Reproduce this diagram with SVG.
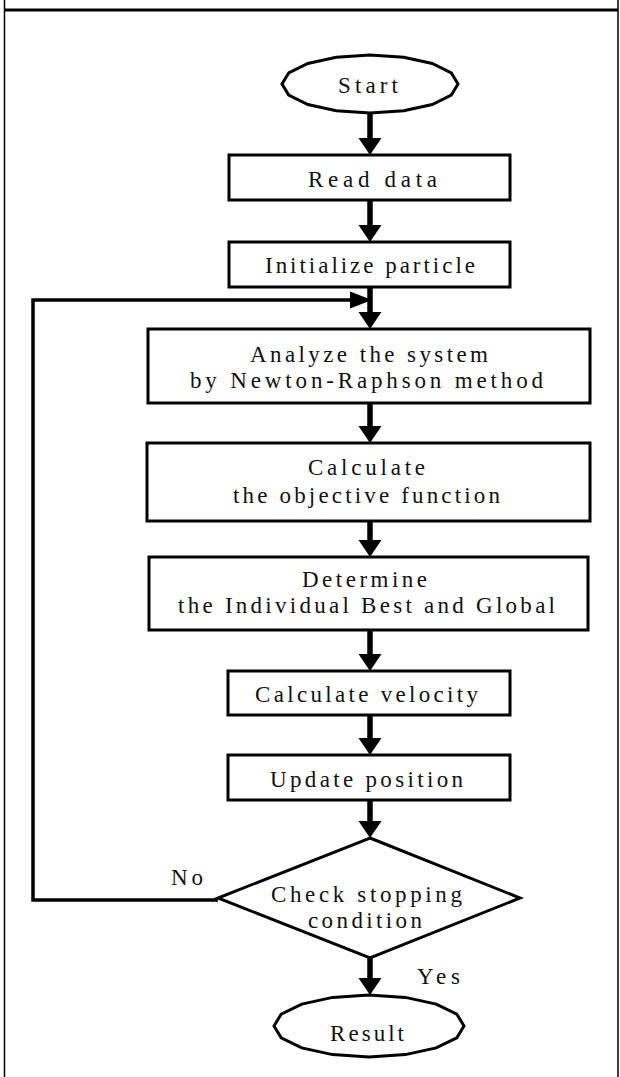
<svg xmlns="http://www.w3.org/2000/svg" width="620" height="1077" viewBox="0 0 620 1077">
<style>
.frame{stroke:#000;fill:none}
.box{fill:#fff;stroke:#000;stroke-width:3}
.t{font-family:"Liberation Serif","Times New Roman",serif;font-size:23px;fill:#111}
.conn{fill:none;stroke:#000;stroke-width:5.5}
.loop{fill:none;stroke:#000;stroke-width:3.5}
.head{fill:#000}
</style>
<rect width="620" height="1077" fill="#fff"/>
<g id="frame">
<line class="frame" x1="4.5" y1="0" x2="4.5" y2="1077" stroke-width="1.5"/>
<line class="frame" x1="618" y1="0" x2="618" y2="1077" stroke-width="1.5"/>
<line class="frame" x1="4" y1="10" x2="618" y2="10" stroke-width="3"/>
</g>
<g id="connectors">
<line class="conn" x1="370" y1="113" x2="370" y2="140"/>
<polygon class="head" points="358.5,138 381.5,138 370,155"/>
<line class="conn" x1="370" y1="200" x2="370" y2="227"/>
<polygon class="head" points="358.5,225 381.5,225 370,242"/>
<line class="conn" x1="370" y1="287" x2="370" y2="314"/>
<polygon class="head" points="358.5,312 381.5,312 370,329"/>
<line class="conn" x1="370" y1="403" x2="370" y2="428"/>
<polygon class="head" points="358.5,426 381.5,426 370,443"/>
<line class="conn" x1="370" y1="521" x2="370" y2="542"/>
<polygon class="head" points="358.5,540 381.5,540 370,557"/>
<line class="conn" x1="370" y1="630" x2="370" y2="656"/>
<polygon class="head" points="358.5,654 381.5,654 370,671"/>
<line class="conn" x1="370" y1="715" x2="370" y2="740"/>
<polygon class="head" points="358.5,738 381.5,738 370,755"/>
<line class="conn" x1="370" y1="800" x2="370" y2="823"/>
<polygon class="head" points="358.5,821 381.5,821 370,838"/>
<line class="conn" x1="370" y1="958" x2="370" y2="980"/>
<polygon class="head" points="358.5,978 381.5,978 370,995"/>
<polyline class="loop" points="218,900 33,900 33,300 352,300"/>
<polygon class="head" points="350,291.5 372,300 350,308.5"/>
<text class="t" x="171" y="885" textLength="32" lengthAdjust="spacing">No</text>
<text class="t" x="417" y="984" textLength="43" lengthAdjust="spacing">Yes</text>
</g>
<g id="start">
<polygon class="box" points="458,84 451.3,95.1 432.2,104.5 403.7,110.8 370,113 336.3,110.8 307.8,104.5 288.7,95.1 282,84 288.7,72.9 307.8,63.5 336.3,57.2 370,55 403.7,57.2 432.2,63.5 451.3,72.9"/>
<text class="t" x="338" y="93" textLength="60" lengthAdjust="spacing">Start</text>
</g>
<g id="read">
<rect class="box" x="229" y="155" width="281" height="45"/>
<text class="t" x="308" y="187" textLength="129" lengthAdjust="spacing">Read data</text>
</g>
<g id="init">
<rect class="box" x="229" y="242" width="281" height="45"/>
<text class="t" x="265" y="273" textLength="210" lengthAdjust="spacing">Initialize particle</text>
</g>
<g id="analyze">
<rect class="box" x="148" y="329" width="442" height="74"/>
<text class="t" x="250" y="362" textLength="238" lengthAdjust="spacing">Analyze the system</text>
<text class="t" x="190" y="388" textLength="353" lengthAdjust="spacing">by Newton-Raphson method</text>
</g>
<g id="objective">
<rect class="box" x="147" y="443" width="443" height="78"/>
<text class="t" x="308" y="475" textLength="117" lengthAdjust="spacing">Calculate</text>
<text class="t" x="233" y="503" textLength="267" lengthAdjust="spacing">the objective function</text>
</g>
<g id="best">
<rect class="box" x="149" y="557" width="439" height="73"/>
<text class="t" x="302" y="587" textLength="125" lengthAdjust="spacing">Determine</text>
<text class="t" x="178" y="613" textLength="377" lengthAdjust="spacing">the Individual Best and Global</text>
</g>
<g id="velocity">
<rect class="box" x="228" y="671" width="282" height="44"/>
<text class="t" x="255" y="702" textLength="223" lengthAdjust="spacing">Calculate velocity</text>
</g>
<g id="update">
<rect class="box" x="228" y="755" width="282" height="45"/>
<text class="t" x="270" y="787" textLength="193" lengthAdjust="spacing">Update position</text>
</g>
<g id="check">
<polygon class="box" points="370,838 520,898 370,958 218,898"/>
<text class="t" x="271" y="902" textLength="191" lengthAdjust="spacing">Check stopping</text>
<text class="t" x="308" y="928" textLength="114" lengthAdjust="spacing">condition</text>
</g>
<g id="result">
<polygon class="box" points="464,1026 456.8,1037.9 436.2,1047.9 405.4,1054.6 369,1057 332.6,1054.6 301.8,1047.9 281.2,1037.9 274,1026 281.2,1014.1 301.8,1004.1 332.6,997.4 369,995 405.4,997.4 436.2,1004.1 456.8,1014.1"/>
<text class="t" x="330" y="1041" textLength="74" lengthAdjust="spacing">Result</text>
</g>
</svg>
